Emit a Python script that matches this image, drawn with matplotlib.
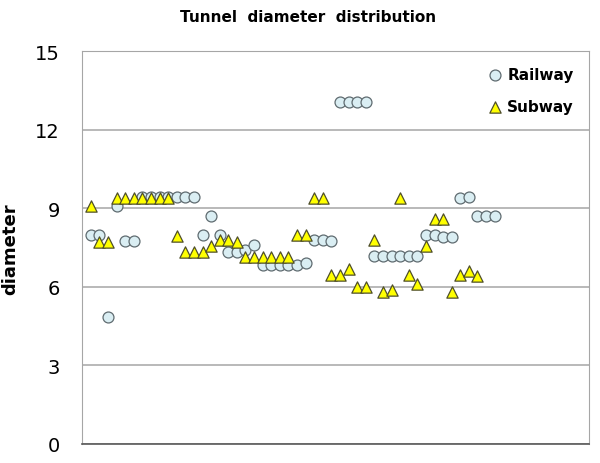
import numpy as np
import matplotlib.pyplot as plt

# values (x = record index)
railway_x = list(range(1, 49))
railway_y = [8.0, 8.0, 4.85, 9.1, 7.75, 7.75, 9.45, 9.45, 9.45, 9.45,
             9.45, 9.45, 9.45, 8.0, 8.7, 8.0, 7.35, 7.35, 7.4, 7.6,
             6.85, 6.85, 6.85, 6.85, 6.85, 6.9, 7.8, 7.8, 7.75, 13.05,
             13.05, 13.05, 13.05, 7.2, 7.2, 7.2, 7.2, 7.2, 7.2, 8.0,
             8.0, 7.9, 7.9, 9.4, 9.45, 8.7, 8.7, 8.7]

subway_x = list(range(1, 47))
subway_y = [9.1, 7.7, 7.7, 9.4, 9.4, 9.4, 9.4, 9.4, 9.4, 9.4,
            7.95, 7.35, 7.35, 7.35, 7.55, 7.8, 7.8, 7.7, 7.15, 7.15,
            7.15, 7.15, 7.15, 7.15, 8.0, 8.0, 9.4, 9.4, 6.45, 6.45,
            6.7, 6.0, 6.0, 7.8, 5.8, 5.9, 9.4, 6.45, 6.1, 7.55,
            8.6, 8.6, 5.8, 6.45, 6.6, 6.4]

y_ticks = [0, 3, 6, 9, 12, 15]

fig = plt.figure(figsize=(6, 4.64), dpi=100)
ax = fig.add_axes([0.137, 0.041, 0.845, 0.846])

ax.scatter(railway_x, railway_y, s=62, marker="o", facecolor="#DAEEF3",
           edgecolor="#5F6B70", linewidths=0.9, label="Railway", zorder=3)
ax.scatter(subway_x, subway_y, s=66, marker="^", facecolor="#FFFF00",
           edgecolor="#4F4F2A", linewidths=0.9, label="Subway", zorder=4)

ax.set_xlim(0, 59)
ax.set_ylim(0, 15)
ax.set_yticks(y_ticks)
ax.set_xticks([])
ax.tick_params(axis="y", length=0, pad=16, labelsize=14)
ax.yaxis.grid(True, color="#A6A6A6", linewidth=1.1)
ax.set_axisbelow(True)

for side in ["top", "right", "left"]:
    ax.spines[side].set_color("#A6A6A6")
ax.spines["bottom"].set_color("#595959")
ax.spines["bottom"].set_linewidth(1.2)

ax.set_ylabel("diameter", fontsize=13, fontweight="bold")
ax.yaxis.set_label_coords(-0.125, 0.5)
fig.text(0.513, 0.963, "Tunnel  diameter  distribution", ha="center", va="center",
         fontsize=11, fontweight="bold")

leg = ax.legend(loc="upper right", frameon=False, handletextpad=0.2,
                labelspacing=1.1, borderaxespad=0.6, handlelength=1.2,
                prop={"weight": "bold", "size": 11})

fig.savefig("out.png", dpi=100)
